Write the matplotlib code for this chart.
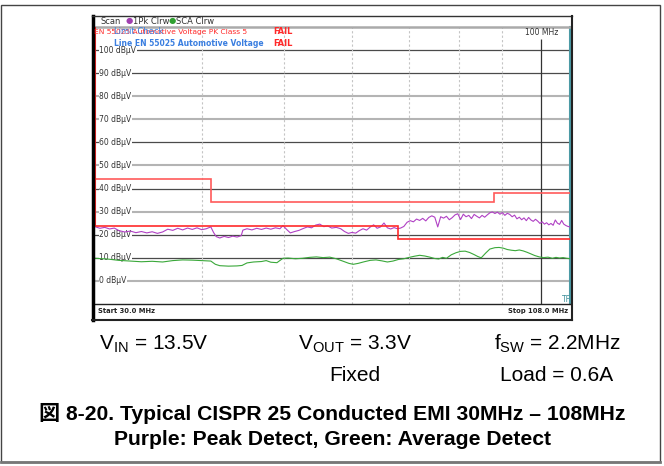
import matplotlib
matplotlib.use("Agg")
import matplotlib.pyplot as plt
from matplotlib.lines import Line2D
from matplotlib.patches import Rectangle
from matplotlib.ticker import NullLocator
from matplotlib.transforms import blended_transform_factory

plt.rcParams['mathtext.fontset'] = 'custom'
plt.rcParams['mathtext.rm'] = 'Liberation Sans'
plt.rcParams['mathtext.default'] = 'regular'

# peak detect trace (MHz, dBuV)
peak_freq = [30.0, 30.4, 30.8, 31.2, 31.6, 32.0, 32.5, 33.0, 33.5, 34.0, 34.5, 35.0,
             35.5, 36.0, 36.5, 37.0, 37.5, 38.0, 38.5, 39.0, 39.5, 40.0, 40.5, 41.0,
             41.3, 41.6, 42.0, 42.5, 43.0, 43.5, 44.0, 44.5, 44.7, 45.2, 45.8, 46.4,
             47.0, 47.6, 48.2, 48.8, 49.4, 49.8, 50.3, 50.8, 51.4, 52.0, 52.6, 53.2,
             53.8, 54.4, 55.0, 55.6, 56.2, 56.8, 57.5, 58.2, 58.8, 59.4, 60.0, 60.6,
             61.2, 61.8, 62.4, 63.0, 63.6, 64.2, 64.8, 65.4, 66.0, 66.6, 67.2, 67.8,
             68.4, 69.0, 69.6, 70.2, 70.8, 71.4, 72.0, 72.6, 73.2, 73.8, 74.4, 75.0,
             75.6, 76.2, 76.8, 77.4, 78.0, 78.6, 79.2, 79.8, 80.4, 81.0, 81.6, 82.2,
             82.8, 83.4, 84.0, 84.6, 85.2, 85.8, 86.4, 87.0, 87.6, 88.2, 88.8, 89.4,
             90.0, 90.6, 91.2, 91.8, 92.4, 93.0, 93.6, 94.2, 94.8, 95.4, 96.0, 96.6,
             97.2, 97.8, 98.4, 99.0, 99.6, 100.2, 100.8, 101.4, 102.0, 102.6, 103.2,
             103.8, 104.4, 105.0, 105.6, 106.2, 106.8, 107.4, 108.0]
peak_level = [23.5, 22.8, 23.2, 22.5, 22.9, 21.8, 21.2, 21.6, 20.9, 21.4, 20.8, 21.3,
              20.6, 21.2, 22.4, 21.9, 22.8, 22.1, 22.9, 22.3, 23.0, 22.2, 22.6, 23.4,
              21.0, 19.2, 18.6, 19.3, 18.8, 19.4, 19.0, 19.6, 22.0, 22.6, 22.1, 22.8,
              22.3, 22.9, 22.4, 23.0, 22.6, 24.0, 22.3, 20.8, 21.4, 21.9, 22.7, 23.4,
              23.0, 24.2, 24.6, 23.5, 23.8, 22.9, 23.2, 22.6, 21.4, 20.6, 21.0, 20.7,
              21.8, 22.6, 22.0, 23.3, 24.3, 22.8, 23.4, 25.1, 23.0, 22.5, 23.1, 22.6,
              22.9, 23.6, 25.4, 26.1, 25.6, 26.8, 26.2, 27.1, 26.0, 27.5, 28.2, 27.6,
              23.4, 27.8, 27.2, 28.0, 26.5, 27.4, 28.6, 29.1, 26.6, 28.9, 27.8, 28.4,
              27.0, 28.8, 28.0, 27.3, 28.4, 27.6, 28.6, 29.5, 29.9, 29.2, 29.8, 28.9,
              29.6, 28.4, 29.3, 28.8, 27.8, 28.5, 26.9, 27.6, 26.5, 27.3, 26.1, 27.5,
              26.4, 25.8, 26.7, 25.9, 24.9, 25.6, 24.6, 25.2, 24.3, 24.9, 24.1,
              26.4, 25.0, 24.5, 26.2, 24.6, 24.0, 23.6, 23.4]

# average detect trace (MHz, dBuV)
avg_freq = [30, 31, 32, 33, 34, 35, 36, 37, 38, 39, 40, 41, 41.5, 42, 43, 44, 44.6,
            45.2, 46, 47, 47.6, 48.2, 49, 49.8, 50.5, 51.5, 52.5, 53.5, 54.5, 55.5,
            56.5, 57.5, 58.5, 59.5, 60.2, 61.0, 62.0, 63.0, 64.0, 65.0, 66.0, 67.0,
            68.0, 69.0, 70.0, 71.0, 72.0, 73.0, 74.0, 75.0, 75.8, 76.6, 77.4, 78.4,
            79.4, 80.4, 81.4, 82.4, 83.4, 84.2, 85.0, 86.0, 87.0, 88.2, 89.2, 90.2,
            91.2, 92.2, 93.2, 94.2, 95.2, 96.2, 97.2, 98.2, 99.4, 100.6, 101.8, 103.0,
            104.0, 105.0, 106.0, 107.0, 108.0]
avg_level = [9.8, 9.5, 8.9, 8.6, 8.3, 8.5, 8.2, 8.8, 9.1, 9.0, 8.8, 8.6, 7.2, 6.6,
             6.4, 6.5, 6.7, 7.8, 8.2, 8.4, 8.8, 8.1, 7.9, 9.8, 9.9, 9.6, 9.8, 10.2,
             10.4, 10.1, 10.3, 9.6, 8.6, 7.6, 7.2, 7.6, 8.3, 8.9, 9.1, 8.7, 8.2, 8.6,
             9.3, 9.6, 10.2, 10.7, 11.1, 10.8, 10.3, 9.7, 9.5, 10.2, 9.8, 11.3,
             12.2, 12.8, 12.9, 12.3, 11.4, 10.6, 10.0, 12.0, 13.8, 14.4, 14.5, 14.2,
             13.6, 13.3, 13.1, 13.4, 13.0, 12.4, 11.7, 11.0, 10.4, 10.1, 10.3, 9.8,
             10.2, 9.9, 10.1, 9.8, 9.6]

# limit lines
pk_edges = [30, 41, 88, 108]
pk_limit = [44, 34, 38]
avg_edges = [30, 68, 108]
avg_limit = [24, 18]

grid_levels = [0, 10, 20, 30, 40, 50, 60, 70, 80, 90, 100]
grid_dark = [False, True, True, False, True, False, True, False, False, True, True]
freq_grid = [40, 50, 60, 70, 80, 90]
marker_freq = 100

W, H = 664, 466


def fx(x):
    return x / W


def fy(y):
    return 1 - y / H


def fline(x0, y0, x1, y1, **kw):
    fig.add_artist(Line2D([fx(x0), fx(x1)], [fy(y0), fy(y1)],
                          transform=fig.transFigure, **kw))


fig = plt.figure(figsize=(6.64, 4.66), dpi=100)
ax = fig.add_axes([fx(95), fy(304), (570 - 95) / W, (304 - 27) / H])
ax.set_xscale('log')
ax.set_xlim(30, 108)
ax.set_ylim(-10, 110)
for a in (ax.xaxis, ax.yaxis):
    a.set_major_locator(NullLocator())
    a.set_minor_locator(NullLocator())

for lvl, dark in zip(grid_levels, grid_dark):
    if dark:
        ax.axhline(lvl, color='#4a4a4a', lw=0.9, zorder=1)
    else:
        ax.axhline(lvl, color='#b4b4b4', lw=1.5, zorder=1)
for f in freq_grid:
    ax.axvline(f, color='#c4c4c4', lw=0.8, ls=(0, (2, 2)), zorder=1)
ax.vlines(marker_freq, -10, 105, color='#333333', lw=0.9, zorder=1)
ax.text(marker_freq, 107.6, '100 MHz', ha='center', va='center',
        fontsize=5.5, color='#333333')

trans = blended_transform_factory(ax.transAxes, ax.transData)
for lvl in grid_levels:
    ax.text(0.009, lvl, f'{lvl} dBµV', transform=trans, ha='left', va='center',
            fontsize=5.5, color='#333333', zorder=2,
            bbox=dict(fc='white', ec='none', pad=0.3))

ax.plot(peak_freq, peak_level, color='#b040c4', lw=0.8, zorder=3)
ax.plot(avg_freq, avg_level, color='#3aa83a', lw=0.8, zorder=3)
ax.stairs(pk_limit, pk_edges, baseline=None, color='#ff5a5a', lw=1.2, zorder=4)
ax.stairs(avg_limit, avg_edges, baseline=None, color='#ff2a2a', lw=1.2, zorder=4)
ax.vlines(avg_edges[0], avg_limit[0], 110, color='#ff2a2a', lw=1.5, zorder=4,
          clip_on=False)

ax.spines['left'].set_visible(False)
ax.spines['top'].set_color('#aaaaaa')
ax.spines['top'].set_linewidth(1.8)
ax.spines['right'].set_color('#4b9aa5')
ax.spines['right'].set_linewidth(1.5)
ax.spines['bottom'].set_color('#222222')
ax.spines['bottom'].set_linewidth(1.0)

# analyzer screenshot frame
fline(93, 16, 93, 320, color='black', lw=2.5)
fline(92, 16, 572, 16, color='#333333', lw=1.0)
fline(572, 16, 572, 320, color='#222222', lw=1.5)
fline(92, 319.5, 572, 319.5, color='#222222', lw=1.5)

# header row
fig.text(fx(100), fy(21), 'Scan', fontsize=6, va='center', color='#333333')
fig.text(fx(126), fy(21), '●', fontsize=6, va='center', color='#a040b0')
fig.text(fx(133), fy(21), '1Pk Clrw', fontsize=6, va='center', color='#333333')
fig.text(fx(169), fy(21), '●', fontsize=6, va='center', color='#30a030')
fig.text(fx(176), fy(21), 'SCA Clrw', fontsize=6, va='center', color='#333333')

# limit check overlay (overlapping as on the analyzer screen)
fig.text(fx(94), fy(32), 'EN 55025 Automotive Voltage PK Class 5', fontsize=5.4,
         va='center', color='#ff2a2a')
fig.text(fx(114), fy(32), 'Limit Check', fontsize=6.0, va='center',
         color='#3a7ee0')
fig.text(fx(114), fy(44), 'Line EN 55025 Automotive Voltage', fontsize=5.5,
         va='center', color='#3a7ee0', fontweight='bold')
fig.text(fx(273), fy(32), 'FAIL', fontsize=6.0, va='center', color='#ff2a2a',
         fontweight='bold')
fig.text(fx(273), fy(44), 'FAIL', fontsize=6.0, va='center', color='#ff2a2a',
         fontweight='bold')

# bottom bar
fig.text(fx(98), fy(311), 'Start 30.0 MHz', fontsize=4.9, fontweight='bold',
         va='center', color='#222222')
fig.text(fx(568), fy(311), 'Stop 108.0 MHz', fontsize=4.9, fontweight='bold',
         va='center', ha='right', color='#222222')
fig.text(fx(571), fy(300), 'TF', fontsize=5.5, va='center', ha='right',
         color='#3f8f9a')

# test conditions
fam = ['Liberation Sans', 'Noto Sans CJK JP']
fig.text(fx(154), fy(350), r'V$_{IN}$ = 13.5V', fontsize=15, ha='center',
         va='baseline', family=fam)
fig.text(fx(355), fy(350), r'V$_{OUT}$ = 3.3V', fontsize=15, ha='center',
         va='baseline', family=fam)
fig.text(fx(557), fy(350), r'f$_{SW}$ = 2.2MHz', fontsize=15, ha='center',
         va='baseline', family=fam)
fig.text(fx(355), fy(381), 'Fixed', fontsize=15, ha='center', va='baseline',
         family=fam)
fig.text(fx(557), fy(381), 'Load = 0.6A', fontsize=15, ha='center',
         va='baseline', family=fam)

# caption
fig.text(fx(332), fy(420), '図 8-20. Typical CISPR 25 Conducted EMI 30MHz – 108MHz',
         fontsize=15.2, fontweight='bold', ha='center', va='baseline', family=fam)
fig.text(fx(332), fy(445), 'Purple: Peak Detect, Green: Average Detect',
         fontsize=15.2, fontweight='bold', ha='center', va='baseline', family=fam)

# page border
fig.add_artist(Rectangle((fx(1), fy(462)), fx(660) - fx(1), fy(5) - fy(462),
                         transform=fig.transFigure, fill=False, ec='#444444',
                         lw=1.0))
fline(1, 462, 660, 462, color='#777777', lw=2.0)

fig.savefig('out.png', dpi=100)
